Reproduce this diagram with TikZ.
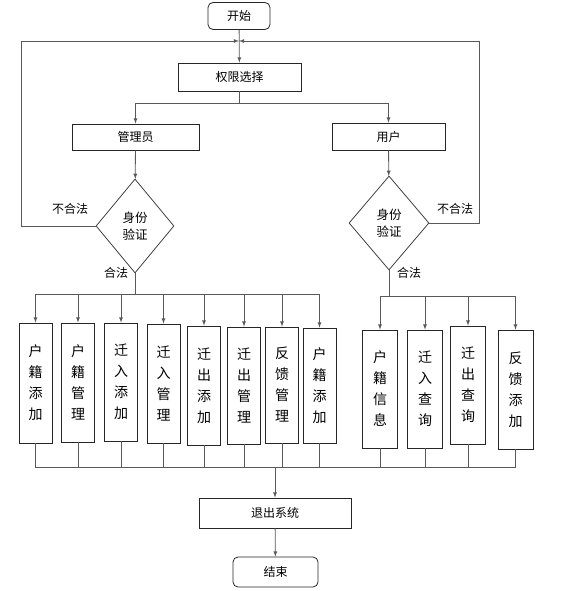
\documentclass[tikz,border=0pt]{standalone}
\usepackage{fontspec}
\newfontfamily\cjk{Noto Sans CJK SC}
\usetikzlibrary{shapes.geometric}
\begin{document}
\begin{tikzpicture}[x=1pt, y=-1pt, >=latex,
  line/.style={draw=black!65, line width=0.8pt},
  box/.style={draw=black!85, line width=0.8pt, fill=white, inner sep=0pt, font=\cjk\fontsize{12}{14}\selectfont},
  term/.style={box, rounded corners=5pt},
  check/.style={diamond, draw=black!75, line width=0.8pt, inner sep=0pt, align=center, font=\cjk\fontsize{12.5}{17}\selectfont},
  fbox/.style={box, align=center, minimum width=33, font=\cjk\fontsize{14}{21}\selectfont},
  lbl/.style={font=\cjk\fontsize{12}{14}\selectfont}]
  \useasboundingbox (0,0) rectangle (581,591);

  % top part
  \node[term, minimum width=62, minimum height=27] (start) at (239,16) {开始};
  \node[box, minimum width=123, minimum height=28] (choose) at (239.5,77) {权限选择};
  \node[box, minimum width=127, minimum height=26] (admin) at (135.5,137) {管理员};
  \node[box, minimum width=113, minimum height=27] (user) at (388.5,136.5) {用户};
  \node[check, minimum width=78, minimum height=94] (acheck) at (135,226) {身份\\验证};
  \node[check, minimum width=80, minimum height=94] (ucheck) at (389,223) {身份\\验证};

  \coordinate (merge) at (239,41);
  \coordinate (csplit) at (239.5,103);
  \draw[line,->] (start) -- (choose);
  \draw[line] (choose) -- (csplit);
  \draw[line,->] (csplit) -| (admin);
  \draw[line,->] (csplit) -| (user);
  \draw[line,->] (admin) -- (acheck);
  \draw[line,->] (user) -- (ucheck);
  \draw[line,->] (acheck.west) -- ++(-74,0) |- (merge);
  \draw[line,->] (ucheck.east) -- ++(50,0) |- (merge);
  \node[lbl] (anot) at (70,209) {不合法};
  \node[lbl] (unot) at (455,209) {不合法};
  \node[lbl] (aok) at (116,273) {合法};
  \node[lbl] (uok) at (409,273) {合法};

  % function boxes
  \coordinate (abus) at (135,294);
  \coordinate (ubus) at (389,296);
  \coordinate (ebus) at (275,467);
  \draw[line] (acheck.south) -- (abus);
  \draw[line] (ucheck.south) -- (ubus);
  \foreach \n/\x/\y/\h/\t in {a1/35.5/383/120/户\\籍\\添\\加, a2/78/382.5/119/户\\籍\\管\\理,
      a3/121/382/118/迁\\入\\添\\加, a4/163.5/383.5/119/迁\\入\\管\\理,
      a5/204/385.5/119/迁\\出\\添\\加, a6/244/385.5/117/迁\\出\\管\\理,
      a7/282/385/116/反\\馈\\管\\理, a8/319.5/385.5/115/户\\籍\\添\\加} {
    \node[fbox, minimum height=\h] (\n) at (\x,\y) {\t};
    \draw[line,->] (abus) -| (\n.north);
    \draw[line] (\n.south) |- (ebus);
  }
  \foreach \n/\x/\y/\h/\t in {u1/380/389/118/户\\籍\\信\\息, u2/425/389/118/迁\\入\\查\\询,
      u3/468/385/118/迁\\出\\查\\询, u4/515.5/389.5/119/反\\馈\\添\\加} {
    \node[fbox, minimum width=35, minimum height=\h] (\n) at (\x,\y) {\t};
    \draw[line,->] (ubus) -| (\n.north);
    \draw[line] (\n.south) |- (ebus);
  }

  % exit
  \node[box, minimum width=152, minimum height=30] (quit) at (275,513) {退出系统};
  \node[term, minimum width=85, minimum height=30] (end) at (275.5,572) {结束};
  \draw[line,->] (ebus) -- (quit);
  \draw[line,->] (quit) -- (end);
\end{tikzpicture}
\end{document}
